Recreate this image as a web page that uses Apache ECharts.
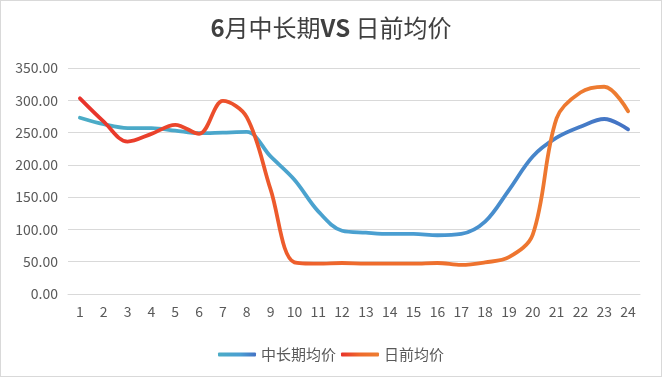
<!DOCTYPE html>
<html><head><meta charset="utf-8">
<script src="https://cdn.jsdelivr.net/npm/echarts@6/dist/echarts.min.js"></script>
<style>
html,body{margin:0;padding:0;background:#fff;}
#c{width:662px;height:377px;box-sizing:border-box;border:1px solid #d9d9d9;}
</style></head>
<body><div id="c"></div>
<script>
const titleParts = ['6','月中长期','VS',' 日前均价'];
const categories = ['1','2','3','4','5','6','7','8','9','10','11','12','13','14','15','16','17','18','19','20','21','22','23','24'];
const seriesNames = ['中长期均价','日前均价'];
const midLong = [273,263,257,257,253,249,250,251,213,177,128,98,95,93,93,91,93,112,161,213,242,259,271,255];
const dayAhead = [303,267,236,248,262,248,299,274,162,49,47,48,47,47,47,48,45,49,57,92,272,312,321,283];
const yTicks = [0,50,100,150,200,250,300,350];

const chart = echarts.init(document.getElementById('c'));
const font = '"Noto Sans CJK SC", "Noto Sans", sans-serif';
const blueGrad = new echarts.graphic.LinearGradient(0,0,1,0,[{offset:0,color:'#4bacc6'},{offset:0.6,color:'#4a9ed2'},{offset:1,color:'#4472c4'}]);
const redGrad = new echarts.graphic.LinearGradient(0,0,1,0,[{offset:0,color:'#e8322b'},{offset:0.5,color:'#ef6a2c'},{offset:1,color:'#ed7d31'}]);
chart.setOption({
  animation:false,
  textStyle:{fontFamily:font},
  title:{text:'{b|'+titleParts[0]+'}{n|'+titleParts[1]+'}{b|'+titleParts[2]+'}{n|'+titleParts[3]+'}',
    left:'center',top:10,
    textStyle:{fontSize:24,color:'#404040',fontFamily:font,
      rich:{b:{fontSize:24,fontWeight:'bold',color:'#404040',fontFamily:font},
            n:{fontSize:24,fontWeight:'normal',color:'#404040',fontFamily:font}}}},
  grid:{left:67,right:21,top:67,bottom:82},
  legend:{top:341,left:'center',itemWidth:38,itemHeight:4,icon:'roundRect',itemGap:5,
    textStyle:{fontSize:15,color:'#595959'},data:seriesNames},
  xAxis:{type:'category',data:categories,boundaryGap:true,
    axisLine:{lineStyle:{color:'#d9d9d9'}},axisTick:{show:false},
    axisLabel:{color:'#595959',fontSize:14,margin:11}},
  yAxis:{type:'value',min:yTicks[0],max:yTicks[yTicks.length-1],interval:50,
    axisLine:{show:false},axisTick:{show:false},
    splitLine:{lineStyle:{color:'#d9d9d9'}},
    axisLabel:{color:'#595959',fontSize:14,margin:10,formatter:v=>v.toFixed(2)}},
  series:[
    {name:seriesNames[0],type:'line',data:midLong,smooth:0.35,showSymbol:false,
     lineStyle:{width:3.8,color:blueGrad,cap:'round'},itemStyle:{color:blueGrad}},
    {name:seriesNames[1],type:'line',data:dayAhead,smooth:0.35,showSymbol:false,
     lineStyle:{width:3.8,color:redGrad,cap:'round'},itemStyle:{color:redGrad}}
  ]
});
</script></body></html>
